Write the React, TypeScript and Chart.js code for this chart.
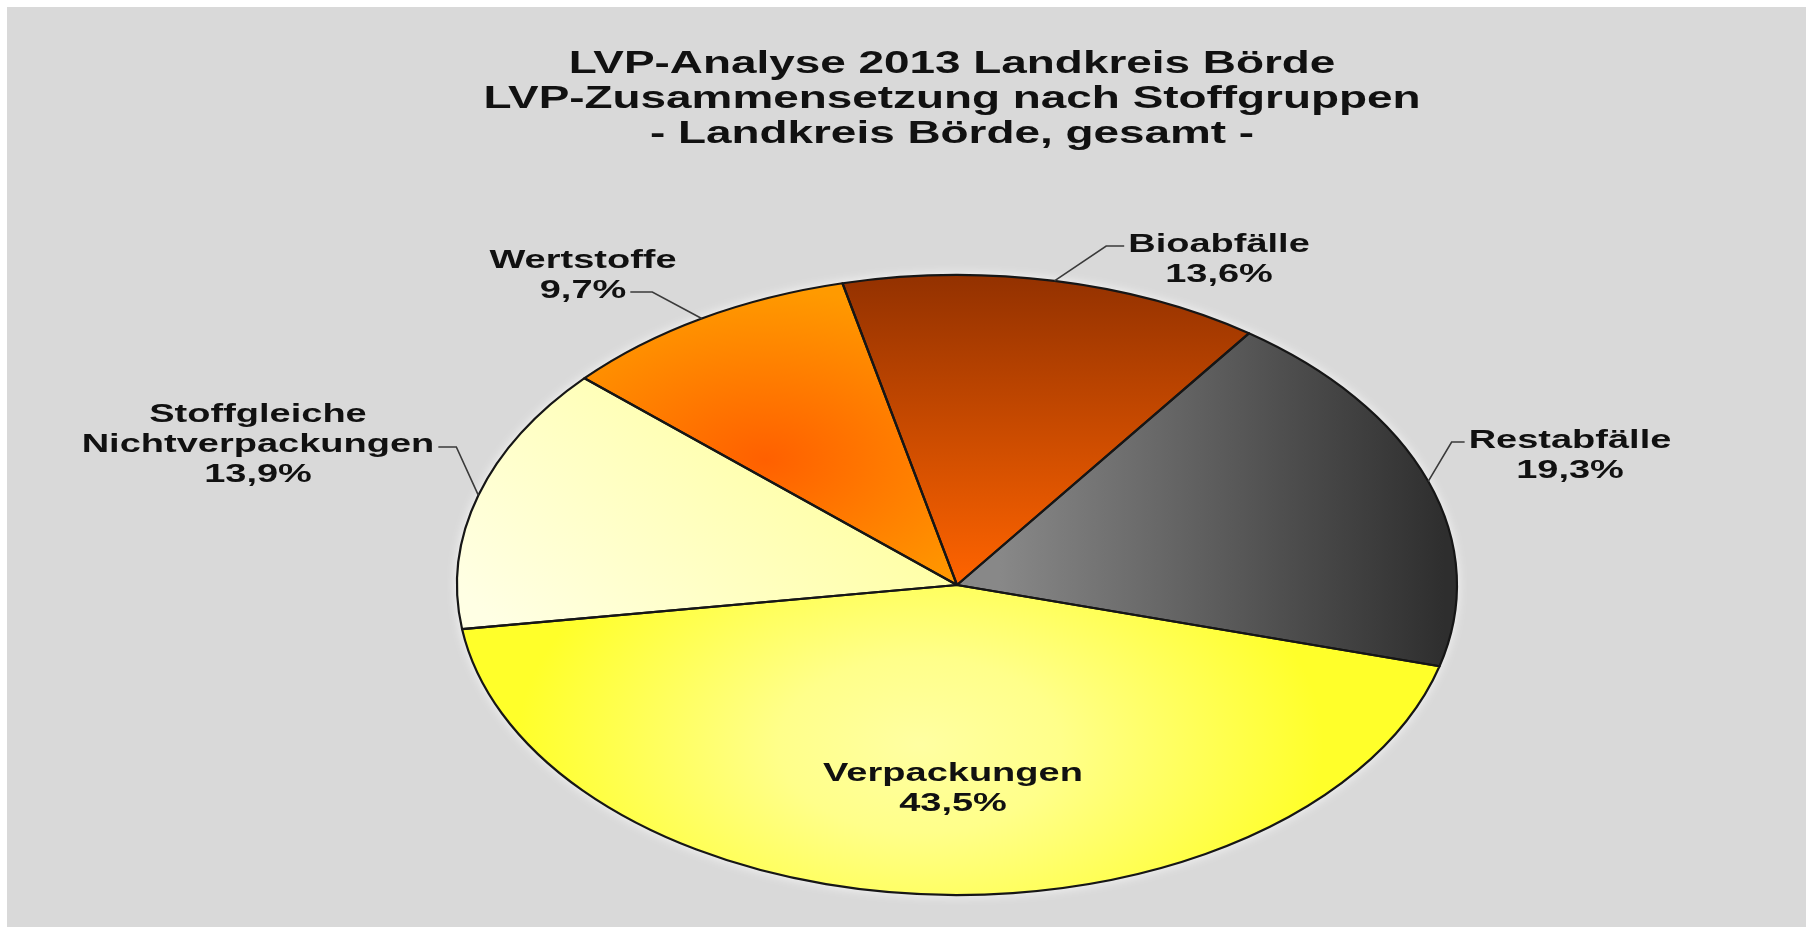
import React, { useEffect, useRef } from "react";
import { Chart, registerables } from "chart.js";

Chart.register(...registerables);

// ---- data ----
const categories = ["Verpackungen", "Stoffgleiche Nichtverpackungen", "Wertstoffe", "Bioabfälle", "Restabfälle"];
const labelLines = [["Verpackungen"], ["Stoffgleiche", "Nichtverpackungen"], ["Wertstoffe"], ["Bioabfälle"], ["Restabfälle"]];
const shares = [43.5, 13.9, 9.7, 13.6, 19.3];
const titleLines = ["LVP-Analyse 2013 Landkreis Börde", "LVP-Zusammensetzung nach Stoffgruppen", "- Landkreis Börde, gesamt -"];

// ---- layout / style ----
const W = 1810;
const H = 927;
const CX = 957;
const CY = 585;
const RX = 500;
const RY = 310;
const SX = RX / RY;
const TITLE_STRETCH = 1.48;
const LABEL_STRETCH = 1.52;
const FONT = '"Liberation Sans", Arial, sans-serif';
const ROTATION = 105.2;

// label anchor (center x, first baseline y); leader: side of text, which line, elbow length
const labelPos = [
  { x: 953, y: 781, leader: null as null | { side: string; line: number; len: number; dy: number } },
  { x: 258, y: 422, leader: { side: "right", line: 1, len: 18, dy: -5 } },
  { x: 583, y: 268, leader: { side: "right", line: 1, len: 22, dy: -6 } },
  { x: 1219, y: 252, leader: { side: "left", line: 0, len: 18, dy: -6 } },
  { x: 1570, y: 448, leader: { side: "left", line: 0, len: 13, dy: -6 } },
];

const fmt = (v: number) => v.toFixed(1).replace(".", ",") + "%";

function makeFill(chart: any, i: number) {
  const area = chart.chartArea;
  if (!area) return "#ffff66";
  const ctx = chart.ctx as CanvasRenderingContext2D;
  const cx = (area.left + area.right) / 2;
  const pre = (X: number) => cx + (X - cx) / SX;
  let g: CanvasGradient;
  switch (i) {
    case 0:
      g = ctx.createRadialGradient(pre(920), 745, 0, pre(920), 745, 250);
      g.addColorStop(0, "#FFFFA2");
      g.addColorStop(0.35, "#FFFF8A");
      g.addColorStop(1, "#FFFF2A");
      return g;
    case 1:
      g = ctx.createLinearGradient(pre(470), 600, pre(860), 440);
      g.addColorStop(0, "#FFFFE4");
      g.addColorStop(1, "#FFFFA0");
      return g;
    case 2:
      g = ctx.createRadialGradient(pre(765), 460, 0, pre(765), 460, 170);
      g.addColorStop(0, "#FF6000");
      g.addColorStop(1, "#FF9A00");
      return g;
    case 3:
      g = ctx.createLinearGradient(0, 280, 0, 585);
      g.addColorStop(0, "#953200");
      g.addColorStop(1, "#FF6400");
      return g;
    default:
      g = ctx.createLinearGradient(pre(1000), 0, pre(1445), 0);
      g.addColorStop(0, "#888888");
      g.addColorStop(1, "#2E2E2E");
      return g;
  }
}

function stretchedText(ctx: CanvasRenderingContext2D, text: string, x: number, y: number, s: number) {
  ctx.save();
  ctx.translate(x, y);
  ctx.scale(s, 1);
  ctx.fillText(text, 0, 0);
  ctx.restore();
}

const decoPlugin = {
  id: "deco",
  beforeDraw(chart: any) {
    const ctx = chart.ctx as CanvasRenderingContext2D;
    ctx.save();
    ctx.fillStyle = "#ffffff";
    ctx.fillRect(0, 0, W, H);
    ctx.fillStyle = "#D9D9D9";
    ctx.fillRect(7, 7, W - 11, H - 7);
    ctx.restore();
  },
  beforeDatasetsDraw(chart: any) {
    const ctx = chart.ctx as CanvasRenderingContext2D;
    const arc = chart.getDatasetMeta(0).data[0];
    const { x, y, outerRadius } = arc.getProps(["x", "y", "outerRadius"], true);
    ctx.save();
    ctx.shadowColor = "rgba(255,255,255,0.9)";
    ctx.shadowBlur = 12;
    ctx.fillStyle = "#D9D9D9";
    ctx.beginPath();
    ctx.ellipse(x, y, outerRadius * SX, outerRadius, 0, 0, Math.PI * 2);
    ctx.fill();
    ctx.restore();
    ctx.save();
    ctx.translate(x, 0);
    ctx.scale(SX, 1);
    ctx.translate(-x, 0);
  },
  afterDatasetsDraw(chart: any) {
    const ctx = chart.ctx as CanvasRenderingContext2D;
    ctx.restore();
    const arcs = chart.getDatasetMeta(0).data;
    ctx.save();
    ctx.strokeStyle = "#161616";
    ctx.lineWidth = 2.2;
    ctx.lineJoin = "round";
    arcs.forEach((a: any) => {
      const { x, y, startAngle, endAngle, outerRadius } = a.getProps(
        ["x", "y", "startAngle", "endAngle", "outerRadius"],
        true
      );
      ctx.beginPath();
      ctx.moveTo(x, y);
      ctx.ellipse(x, y, outerRadius * SX, outerRadius, 0, startAngle, endAngle);
      ctx.closePath();
      ctx.stroke();
    });
    ctx.restore();

    // title
    ctx.save();
    ctx.fillStyle = "#111111";
    ctx.textAlign = "center";
    ctx.textBaseline = "alphabetic";
    ctx.font = `bold 31px ${FONT}`;
    titleLines.forEach((t, i) => stretchedText(ctx, t, 952, 73 + i * 35, TITLE_STRETCH));

    // labels + leaders
    ctx.font = `bold 25px ${FONT}`;
    arcs.forEach((a: any, i: number) => {
      const { x, y, startAngle, endAngle, outerRadius } = a.getProps(
        ["x", "y", "startAngle", "endAngle", "outerRadius"],
        true
      );
      const p = labelPos[i];
      const lines = [...labelLines[i], fmt(shares[i])];
      ctx.fillStyle = "#111111";
      lines.forEach((t, k) => stretchedText(ctx, t, p.x, p.y + k * 30, LABEL_STRETCH));
      if (p.leader) {
        const L = p.leader;
        const lineIdx = Math.min(L.line, lines.length - 1);
        const w = ctx.measureText(lines[lineIdx]).width * LABEL_STRETCH;
        const ly = p.y + lineIdx * 30 + L.dy;
        const sx = L.side === "right" ? p.x + w / 2 + 4 : p.x - w / 2 - 4;
        const ex = L.side === "right" ? sx + L.len : sx - L.len;
        const mid = (startAngle + endAngle) / 2;
        const px = x + Math.cos(mid) * outerRadius * SX;
        const py = y + Math.sin(mid) * outerRadius;
        ctx.strokeStyle = "#3A3A3A";
        ctx.lineWidth = 1.6;
        ctx.beginPath();
        ctx.moveTo(sx, ly);
        ctx.lineTo(ex, ly);
        ctx.lineTo(px, py);
        ctx.stroke();
      }
    });
    ctx.restore();
  },
};

export default function App() {
  const ref = useRef<HTMLCanvasElement>(null);
  useEffect(() => {
    document.body.style.margin = "0";
    const canvas = ref.current!;
    const chart = new Chart(canvas, {
      type: "pie",
      data: {
        labels: categories,
        datasets: [
          {
            data: shares,
            backgroundColor: (c: any) => makeFill(c.chart, c.dataIndex),
            borderWidth: 0,
            hoverOffset: 0,
          },
        ],
      },
      options: {
        responsive: false,
        animation: false,
        rotation: ROTATION,
        events: [],
        layout: {
          padding: { top: CY - RY, bottom: H - (CY + RY), left: CX - RY, right: W - (CX + RY) },
        },
        plugins: {
          legend: { display: false },
          tooltip: { enabled: false },
          title: { display: false },
        },
      },
      plugins: [decoPlugin],
    } as any);
    return () => chart.destroy();
  }, []);
  return (
    <canvas
      ref={ref}
      width={W}
      height={H}
      style={{ display: "block", width: W, height: H, position: "absolute", left: 0, top: 0 }}
    />
  );
}
